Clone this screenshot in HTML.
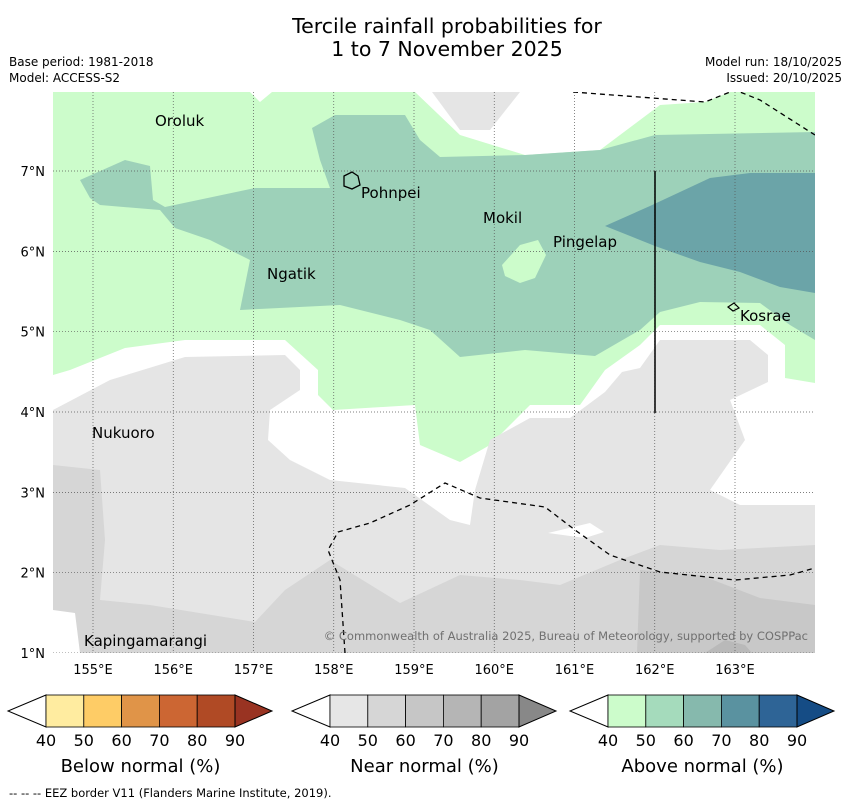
<!DOCTYPE html>
<html><head><meta charset="utf-8">
<style>
body{margin:0;background:#fff;font-family:"Liberation Sans","DejaVu Sans",sans-serif;}
svg text{font-family:"DejaVu Sans","Liberation Sans",sans-serif;}
</style></head>
<body>
<svg id="chart" width="850" height="804" viewBox="0 0 850 804" xmlns="http://www.w3.org/2000/svg">
<rect width="850" height="804" fill="#fff"/>
<text x="447" y="33" font-size="20.5" text-anchor="middle">Tercile rainfall probabilities for</text>
<text x="447" y="56" font-size="20.5" text-anchor="middle">1 to 7 November 2025</text>
<text x="9" y="66" font-size="12">Base period: 1981-2018</text>
<text x="9" y="82" font-size="12">Model: ACCESS-S2</text>
<text x="842" y="66" font-size="12" text-anchor="end">Model run: 18/10/2025</text>
<text x="842" y="82" font-size="12" text-anchor="end">Issued: 20/10/2025</text>

<g>
<clipPath id="mc"><rect x="53" y="92" width="762" height="561"/></clipPath>
<g clip-path="url(#mc)">
<polygon fill="#ccfccb" points="53,92 250,92 260,102 272,92 415,92 460,135 525,155 600,150 660,105 705,102 730,92 815,92 815,383 785,378 785,345 760,325 660,325 640,345 605,370 580,405 530,405 490,445 460,462 420,445 415,405 333,410 318,395 318,370 285,340 185,340 125,348 70,370 53,375"/>
<polygon fill="#9dd1b9" points="80,180 125,160 150,166 153,200 165,207 255,188 330,188 320,160 312,128 335,115 405,115 420,140 440,157 525,155 600,150 655,135 815,132 815,340 790,325 760,303 700,302 660,312 640,330 595,356 525,350 460,357 430,330 400,320 340,305 240,310 250,260 210,240 175,228 160,210 100,205 90,198"/>
<polygon fill="#ccfccb" points="502,265 520,245 538,240 546,255 535,278 520,283 505,276"/>
<polygon fill="#6ba4a8" points="605,226 650,206 710,178 750,173 815,173 815,293 780,287 740,272 700,262 655,246"/>
<polygon fill="#e5e5e5" points="53,410 110,380 185,357 285,355 300,370 300,390 270,410 268,440 290,460 330,480 405,488 450,520 470,525 475,490 490,440 530,418 570,418 605,392 622,372 640,368 660,340 750,340 768,355 768,382 730,400 745,440 710,490 740,505 815,505 815,653 53,653"/>
<polygon fill="#fff" points="548,533 590,523 604,532 585,538"/>
<polygon fill="#d6d6d6" points="53,465 100,470 105,540 100,600 150,605 255,622 285,590 330,560 400,603 460,575 520,580 560,585 620,560 660,545 720,550 815,545 815,653 53,653"/>
<polygon fill="#c8c8c8" points="640,570 700,575 760,598 815,605 815,653 637,653"/>
<polygon fill="#b9b9b9" points="705,653 725,640 745,645 752,653"/>
<polygon fill="#e5e5e5" points="432,92 520,92 490,130 460,130"/>
<polygon fill="#fff" points="53,610 75,613 80,653 53,653"/>
<g id="grid"></g>
<line x1="655" y1="171" x2="655" y2="413" stroke="#000" stroke-width="1.5"/>
<polyline fill="none" stroke="#000" stroke-width="1.3" stroke-dasharray="5,4" points="573,92 705,102 735,90 760,100 815,135"/>
<polyline fill="none" stroke="#000" stroke-width="1.3" stroke-dasharray="5,4" points="345,653 340,580 328,550 338,532 370,523 410,505 445,483 480,498 545,507 575,530 610,555 660,572 735,580 790,575 815,568"/>
<path d="M344,176 L352,172 L358,176 L360,185 L352,189 L344,186 Z" fill="none" stroke="#000" stroke-width="1.3"/>
<path d="M728,307 L734,303 L739,308 L733,311 Z" fill="none" stroke="#000" stroke-width="1.2"/>
</g>
<g font-size="15">
<text x="155" y="126">Oroluk</text>
<text x="361" y="198">Pohnpei</text>
<text x="483" y="223">Mokil</text>
<text x="553" y="247">Pingelap</text>
<text x="267" y="279">Ngatik</text>
<text x="740" y="321">Kosrae</text>
<text x="92" y="438">Nukuoro</text>
<text x="84" y="646">Kapingamarangi</text>
</g>
<text x="808" y="640" font-size="11.5" fill="#707070" text-anchor="end">© Commonwealth of Australia 2025, Bureau of Meteorology, supported by COSPPac</text>
<g id="axes"></g>
</g>

<g id="cbars"></g>
<text x="9" y="797" font-size="11.5">--  --  -- EEZ border V11 (Flanders Marine Institute, 2019).</text>
</svg>
<script>
const lonTicks=[155,156,157,158,159,160,161,162,163];
const latTicks=[1,2,3,4,5,6,7];
const cbTicks=[40,50,60,70,80,90];
const cbTitles=["Below normal (%)","Near normal (%)","Above normal (%)"];
const cbColors=[["#ffeca0","#fecc66","#e09448","#cc6633","#b04a25","#993322"],
["#e6e6e6","#d6d6d6","#c6c6c6","#b5b5b5","#a3a3a3","#888888"],
["#ccfccb","#a5dbbc","#86b9ad","#5a92a0","#2e6496","#154c85"]];
const NS="http://www.w3.org/2000/svg";
const xs=lon=>93+(lon-155)*80.25;
const ys=lat=>653-(lat-1)*80.33;
function mk(t,a,p){const e=document.createElementNS(NS,t);for(const k in a)e.setAttribute(k,a[k]);p.appendChild(e);return e;}
const grid=document.getElementById('grid'),axes=document.getElementById('axes');
lonTicks.forEach(l=>{
const g=mk('line',{x1:xs(l),x2:xs(l),y1:92,y2:653,stroke:'#555','stroke-width':0.7,'stroke-dasharray':'1,2'},grid);


const t=mk('text',{x:xs(l),y:674,'font-size':13,'text-anchor':'middle'},axes);t.textContent=l+'°E';


});
latTicks.forEach(l=>{
const g=mk('line',{x1:53,x2:815,y1:ys(l),y2:ys(l),stroke:'#555','stroke-width':0.7,'stroke-dasharray':'1,2'},grid);


const t=mk('text',{x:45,y:ys(l)+5,'font-size':13,'text-anchor':'end'},axes);t.textContent=l+'°N';


});
const cb=document.getElementById('cbars');
const starts=[46,330,608];
starts.forEach((x0,i)=>{
const w=37.8,y0=695,h=32;
const g=mk('g',{},cb);


mk('polygon',{points:`${x0},${y0} ${x0-38},${y0+h/2} ${x0},${y0+h}`,fill:'#fff',stroke:'#000','stroke-width':1},g);
for(let k=0;k<5;k++){const r=mk('rect',{x:x0+k*w,y:y0,width:w,height:h,fill:cbColors[i][k],stroke:'#000','stroke-width':0.8},g);

}
const xe=x0+5*w;
mk('polygon',{points:`${xe},${y0} ${xe+37},${y0+h/2} ${xe},${y0+h}`,fill:cbColors[i][5],stroke:'#000','stroke-width':1},g);
cbTicks.forEach((v,k)=>{const t=mk('text',{x:x0+k*w,y:746,'font-size':16,'text-anchor':'middle'},g);t.textContent=v;

});
const tt=mk('text',{x:x0+2.5*w,y:772,'font-size':18,'text-anchor':'middle'},g);tt.textContent=cbTitles[i];


});
</script>
</body></html>
